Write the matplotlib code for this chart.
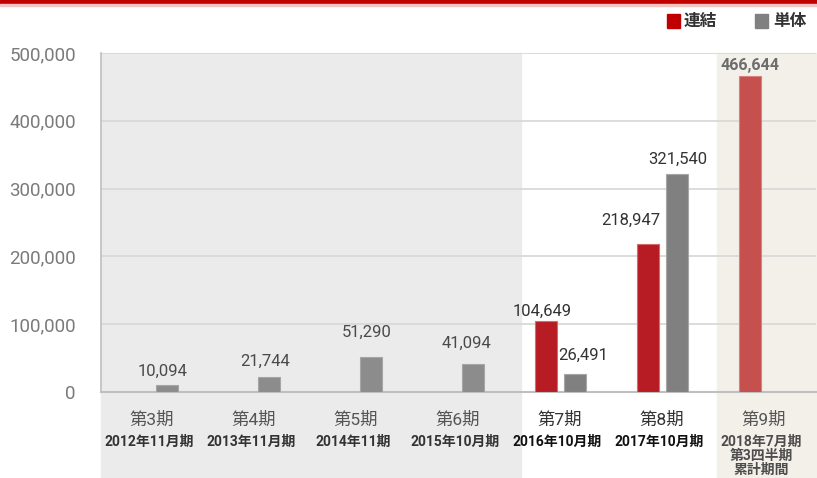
import matplotlib
matplotlib.use("Agg")
import matplotlib.pyplot as plt
from matplotlib.patches import Rectangle
import matplotlib.transforms as mtransforms

periods = ["第3期", "第4期", "第5期", "第6期", "第7期", "第8期", "第9期"]
fiscal = ["2012年11月期", "2013年11月期", "2014年11期", "2015年10月期",
          "2016年10月期", "2017年10月期", "2018年7月期\n第3四半期\n累計期間"]
consolidated = [None, None, None, None, 104649, 218947, 466644]
standalone = [10094, 21744, 51290, 41094, 26491, 321540, None]
yticks = [0, 100000, 200000, 300000, 400000, 500000]

# value-label nudges in pixels (dx, gap above bar top)
cons_label_pos = [None, None, None, None, (-4, 5), (-17, 19), (0, 6)]
stand_label_pos = [(-4, 9), (-4, 11), (-4, 20), (-6, 16), (8, 14), (1, 10), None]

FONT = ["Roboto", "Noto Sans CJK JP", "DejaVu Sans"]
CJK = ["Noto Sans CJK JP", "DejaVu Sans"]
plt.rcParams["font.family"] = FONT

RED = "#b71c24"
RED_LIGHT = "#c5504e"
GRAY = "#808080"
GRAY_SHADED = "#8c8c8c"

fig = plt.figure(figsize=(8.17, 4.78), dpi=100)
W, H = 817, 478

# top accent bar
fig.patches.append(Rectangle((0, 1 - 4 / H), 1, 4 / H, transform=fig.transFigure,
                             color="#c00000", zorder=5))
fig.patches.append(Rectangle((0, 1 - 6 / H), 1, 2 / H, transform=fig.transFigure,
                             color="#f2c4c4", zorder=5))

ax_left, ax_right = 101, 816
ax_top, ax_bot = 53, 392
ax = fig.add_axes([ax_left / W, (H - ax_bot) / H, (ax_right - ax_left) / W,
                   (ax_bot - ax_top) / H])

n = len(periods)
ax.set_xlim(-0.5, n - 0.49)
ax.set_ylim(0, 500000)

trans = mtransforms.blended_transform_factory(ax.transData, ax.transAxes)
ybot = -(H - ax_bot) / (ax_bot - ax_top)
# shaded period bands
ax.add_patch(Rectangle((-0.5, ybot), 4.12, 1 - ybot, transform=trans,
                       color="#ebebeb", zorder=0, clip_on=False))
ax.add_patch(Rectangle((5.54, ybot), 1.0, 1 - ybot, transform=trans,
                       color="#f3f0e9", zorder=0, clip_on=False))
ax.patch.set_alpha(0)

for y in yticks[1:]:
    ax.axhline(y, color="#d9d9d9", lw=1.3, zorder=1)

bw = 0.216
off_r, off_g = -0.137, 0.147


def value_label(x, v, pos, **kw):
    dx, gap = pos
    ax.annotate(f"{v:,}", xy=(x, v), xytext=(dx, gap), textcoords="offset pixels",
                ha="center", va="baseline", zorder=4, **kw)


for i in range(n):
    c = consolidated[i]
    s = standalone[i]
    if c is not None:
        last = i == n - 1
        col = RED_LIGHT if last else RED
        ax.bar(i + off_r, c, width=bw, color=col, edgecolor="#d96a6a" if not last else "#d98080",
               linewidth=0.8, zorder=3)
        value_label(i + off_r, c, cons_label_pos[i],
                    fontsize=11.5 if last else 12,
                    fontweight="bold" if last else "normal",
                    color="#6d6d6d" if last else "#333333")
    if s is not None:
        col = GRAY_SHADED if i < 4 else GRAY
        ax.bar(i + off_g, s, width=bw, color=col, edgecolor="#a6a6a6",
               linewidth=0.8, zorder=3)
        value_label(i + off_g, s, stand_label_pos[i], fontsize=12,
                    color="#4a4a4a" if i < 4 else "#333333")

ax.set_yticks(yticks)
ax.set_yticklabels([f"{v:,}" for v in yticks], fontsize=13.5, color="#7a7a7a")
ax.tick_params(axis="y", length=0, pad=18)
ax.set_xticks([])
for sp in ["top", "right"]:
    ax.spines[sp].set_visible(False)
ax.spines["left"].set_color("#bfbfbf")
ax.spines["bottom"].set_color("#bfbfbf")
ax.spines["left"].set_linewidth(1.2)
ax.spines["bottom"].set_linewidth(1.5)

xtrans = mtransforms.blended_transform_factory(ax.transData, fig.transFigure)
for i in range(n):
    ax.text(i, (H - 420) / H, periods[i], transform=xtrans, ha="center",
            va="center", fontsize=12.5, color="#555555" if i < 4 or i == 6 else "#333333",
            family=FONT)
    lines = fiscal[i].split("\n")
    for k, ln in enumerate(lines):
        ax.text(i - 0.03, (H - 442 - 14 * k) / H, ln, transform=xtrans, ha="center",
                va="center", fontsize=10, fontweight="bold",
                color="#333333" if i < 4 else ("#111111" if i < 6 else "#4d4d4d"),
                family=FONT)

# legend
fig.patches.append(Rectangle((667 / W, (H - 28) / H), 13 / W, 14 / H,
                             transform=fig.transFigure, color="#c00000"))
fig.text(684 / W, (H - 21) / H, "連結", fontsize=12, fontweight="bold",
         va="center", ha="left", color="#333333", family=CJK)
fig.patches.append(Rectangle((755 / W, (H - 28) / H), 13 / W, 14 / H,
                             transform=fig.transFigure, color=GRAY))
fig.text(773 / W, (H - 21) / H, "単体", fontsize=12, fontweight="bold",
         va="center", ha="left", color="#333333", family=CJK)

fig.savefig("out.png", dpi=100)
